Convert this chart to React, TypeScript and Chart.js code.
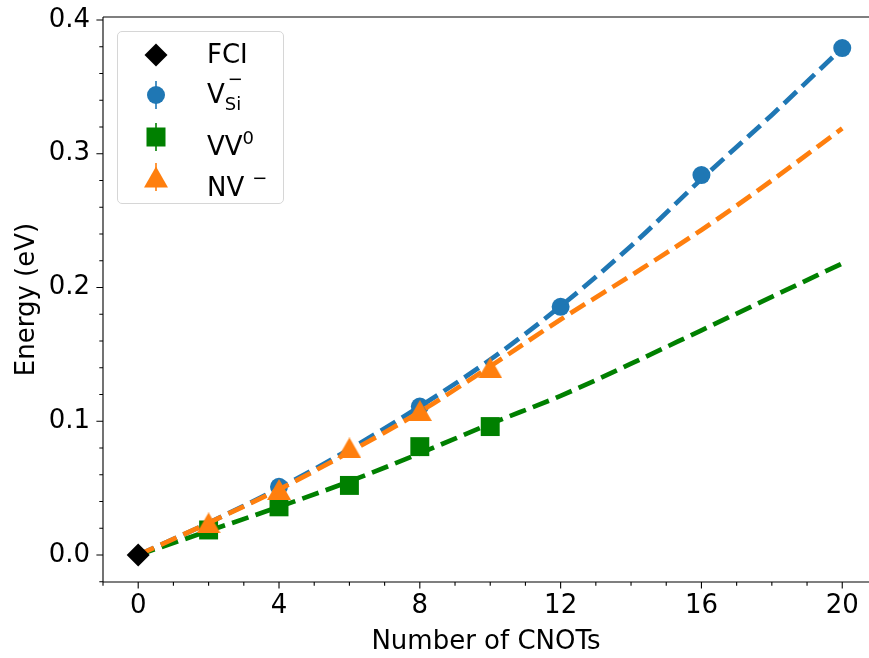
import { useEffect, useRef } from 'react';
import Chart from 'chart.js/auto';

const FONT = "'DejaVu Sans', sans-serif";

// fitted curves, read at every 2 CNOTs
const fitCnots = [0, 2, 4, 6, 8, 10, 12, 14, 16, 18, 20];
const vsiFit = [0, 0.024, 0.05, 0.079, 0.111, 0.146, 0.186, 0.231, 0.281, 0.329, 0.379];
const nvFit = [0, 0.024, 0.049, 0.077, 0.107, 0.141, 0.176, 0.209, 0.243, 0.28, 0.319];
const vv0Fit = [0, 0.018, 0.036, 0.055, 0.076, 0.098, 0.119, 0.143, 0.168, 0.193, 0.218];

// measured points
const fciCnots = [0];
const fciEnergy = [0];
const vsiCnots = [4, 8, 12, 16, 20];
const vsiEnergy = [0.051, 0.111, 0.1855, 0.284, 0.379];
const vv0Cnots = [2, 4, 6, 8, 10];
const vv0Energy = [0.0187, 0.036, 0.052, 0.081, 0.096];
const nvCnots = [2, 4, 6, 8, 10];
const nvEnergy = [0.024, 0.049, 0.08, 0.108, 0.14];

// ticks
const xTicks = [0, 4, 8, 12, 16, 20];
const xMinorTicks = [-1, 1, 2, 3, 5, 6, 7, 9, 10, 11, 13, 14, 15, 17, 18, 19];
const yTicks = [0, 0.1, 0.2, 0.3, 0.4];
const yMinorTicks = [-0.02, 0.02, 0.04, 0.06, 0.08, 0.12, 0.14, 0.16, 0.18, 0.22, 0.24, 0.26, 0.28, 0.32, 0.34, 0.36, 0.38];

const BLUE = '#1f77b4';
const ORANGE = '#ff7f0e';
const GREEN = '#008000';

const pts = (xs: number[], ys: number[]) => xs.map((x, i) => ({ x, y: ys[i] }));

const makeTriangle = (color: string) => {
    const c = document.createElement('canvas');
    c.width = 24;
    c.height = 21;
    const g = c.getContext('2d')!;
    g.fillStyle = color;
    g.beginPath();
    g.moveTo(12, 0);
    g.lineTo(24, 21);
    g.lineTo(0, 21);
    g.closePath();
    g.fill();
    return c;
};

const noPadding = (s: any) => {
    s.paddingTop = 0;
    s.paddingBottom = 0;
    s.paddingLeft = 0;
    s.paddingRight = 0;
};

const framePlugin = {
    id: 'frame',
    afterDraw(chart: any) {
        const { ctx, chartArea, scales } = chart;
        const { left, right, top, bottom } = chartArea;
        ctx.save();
        ctx.strokeStyle = '#000';
        ctx.lineWidth = 1.1;
        ctx.beginPath();
        ctx.moveTo(left, top);
        ctx.lineTo(right, top);
        ctx.moveTo(left, top);
        ctx.lineTo(left, bottom);
        ctx.lineTo(right, bottom);
        xTicks.forEach((v) => {
            const p = scales.x.getPixelForValue(v);
            ctx.moveTo(p, bottom);
            ctx.lineTo(p, bottom + 6.6);
        });
        xMinorTicks.forEach((v) => {
            const p = scales.x.getPixelForValue(v);
            ctx.moveTo(p, bottom);
            ctx.lineTo(p, bottom + 3.7);
        });
        yTicks.forEach((v) => {
            const p = scales.y.getPixelForValue(v);
            ctx.moveTo(left, p);
            ctx.lineTo(left - 6.6, p);
        });
        yMinorTicks.forEach((v) => {
            const p = scales.y.getPixelForValue(v);
            ctx.moveTo(left, p);
            ctx.lineTo(left - 3.7, p);
        });
        ctx.stroke();
        ctx.restore();
    },
};

const Marker = ({ kind, color, cx, cy }: { kind: string; color: string; cx: number; cy: number }) => (
    <svg
        width={32}
        height={34}
        viewBox="-16 -17 32 34"
        style={{ position: 'absolute', left: cx - 16, top: cy - 17 }}
    >
        {kind !== 'diamond' && <line x1={0} y1={-14} x2={0} y2={14} stroke={color} strokeWidth={1.6} />}
        {kind === 'diamond' && <polygon points="0,-11.5 11.5,0 0,11.5 -11.5,0" fill={color} />}
        {kind === 'circle' && <circle cx={0} cy={0} r={9} fill={color} />}
        {kind === 'square' && <rect x={-9.5} y={-9.5} width={19} height={19} fill={color} />}
        {kind === 'triangle' && <polygon points="0,-10.5 12,10.5 -12,10.5" fill={color} />}
    </svg>
);

const textStyle = (baseline: number): React.CSSProperties => ({
    position: 'absolute',
    left: 207,
    top: baseline - 22,
    fontFamily: FONT,
    fontSize: 26,
    lineHeight: '26px',
    whiteSpace: 'nowrap',
    color: '#000',
});

export default function App() {
    const canvasRef = useRef<HTMLCanvasElement>(null);
    const chartRef = useRef<Chart | null>(null);

    useEffect(() => {
        if (chartRef.current) {
            chartRef.current.destroy();
        }
        if (!canvasRef.current) return;
        Chart.defaults.font.family = FONT;
        const fitLine = (data: number[], color: string, order: number) => ({
            type: 'line' as const,
            data: pts(fitCnots, data),
            borderColor: color,
            borderWidth: 4.7,
            borderDash: [17.3, 7.5],
            pointRadius: 0,
            cubicInterpolationMode: 'monotone' as const,
            fill: false,
            order,
        });
        const markers = (xs: number[], ys: number[], color: string, style: any, radius: number, order: number) => ({
            type: 'line' as const,
            data: pts(xs, ys),
            showLine: false,
            pointStyle: style,
            pointRadius: radius,
            pointHoverRadius: radius,
            pointBackgroundColor: color,
            pointBorderColor: color,
            pointBorderWidth: 0,
            order,
        });
        chartRef.current = new Chart(canvasRef.current, {
            type: 'line',
            data: {
                datasets: [
                    markers(fciCnots, fciEnergy, '#000', 'rectRot', 11.5, 0),
                    fitLine(nvFit, ORANGE, 1),
                    markers(nvCnots, nvEnergy, ORANGE, makeTriangle(ORANGE), 12, 2),
                    fitLine(vv0Fit, GREEN, 3),
                    markers(vv0Cnots, vv0Energy, GREEN, 'rect', 13.4, 4),
                    fitLine(vsiFit, BLUE, 5),
                    markers(vsiCnots, vsiEnergy, BLUE, 'circle', 9, 6),
                ] as any,
            },
            options: {
                animation: false,
                responsive: true,
                maintainAspectRatio: false,
                layout: { autoPadding: false, padding: { top: 17, left: 0, right: 0, bottom: 0 } },
                plugins: { legend: { display: false }, tooltip: { enabled: false } },
                scales: {
                    x: {
                        type: 'linear',
                        min: -1,
                        max: 20.76,
                        grid: { display: false, drawTicks: false },
                        border: { display: false },
                        afterBuildTicks: (s: any) => {
                            s.ticks = xTicks.map((value) => ({ value }));
                        },
                        afterFit: (s: any) => {
                            s.height = 76;
                            noPadding(s);
                        },
                        ticks: {
                            color: '#000',
                            font: { size: 26 },
                            padding: 9,
                            maxRotation: 0,
                            autoSkip: false,
                            callback: (v: any) => String(v),
                        },
                        title: {
                            display: true,
                            text: 'Number of CNOTs',
                            color: '#000',
                            font: { size: 26 },
                            padding: { top: 0, bottom: 0 },
                        },
                    },
                    y: {
                        type: 'linear',
                        min: -0.0202,
                        max: 0.4022,
                        grid: { display: false, drawTicks: false },
                        border: { display: false },
                        afterBuildTicks: (s: any) => {
                            s.ticks = yTicks.map((value) => ({ value }));
                        },
                        afterFit: (s: any) => {
                            s.width = 103;
                            noPadding(s);
                        },
                        ticks: {
                            color: '#000',
                            font: { size: 26 },
                            padding: 13,
                            callback: (v: any) => Number(v).toFixed(1),
                        },
                        title: {
                            display: true,
                            text: 'Energy (eV)',
                            color: '#000',
                            font: { size: 26 },
                            padding: { top: 12, bottom: 0 },
                        },
                    },
                },
            },
            plugins: [framePlugin],
        });
        return () => {
            if (chartRef.current) {
                chartRef.current.destroy();
                chartRef.current = null;
            }
        };
    }, []);

    return (
        <div style={{ position: 'absolute', left: 0, top: 0, width: 869, height: 658, overflow: 'hidden', background: '#fff' }}>
            <canvas ref={canvasRef}></canvas>
            <div
                style={{
                    position: 'absolute',
                    left: 117,
                    top: 31,
                    width: 165,
                    height: 171,
                    border: '1px solid #d6d6d6',
                    borderRadius: 5,
                    background: 'rgba(255,255,255,0.8)',
                }}
            ></div>
            <Marker kind="diamond" color="#000" cx={156} cy={55} />
            <Marker kind="circle" color={BLUE} cx={156} cy={95} />
            <Marker kind="square" color={GREEN} cx={156} cy={137} />
            <Marker kind="triangle" color={ORANGE} cx={156} cy={177} />
            <div style={textStyle(63)}>FCI</div>
            <div style={textStyle(103)}>
                V
                <span style={{ position: 'relative', display: 'inline-block' }}>
                    <span style={{ fontSize: 18, verticalAlign: -7 }}>Si</span>
                    <span style={{ position: 'absolute', left: 3, top: -15, fontSize: 18 }}>−</span>
                </span>
            </div>
            <div style={textStyle(147)}>
                VV<span style={{ fontSize: 18, verticalAlign: 11 }}>0</span>
            </div>
            <div style={textStyle(187)}>
                NV<span style={{ fontSize: 18, verticalAlign: 12, marginLeft: 8 }}>−</span>
            </div>
        </div>
    );
}
